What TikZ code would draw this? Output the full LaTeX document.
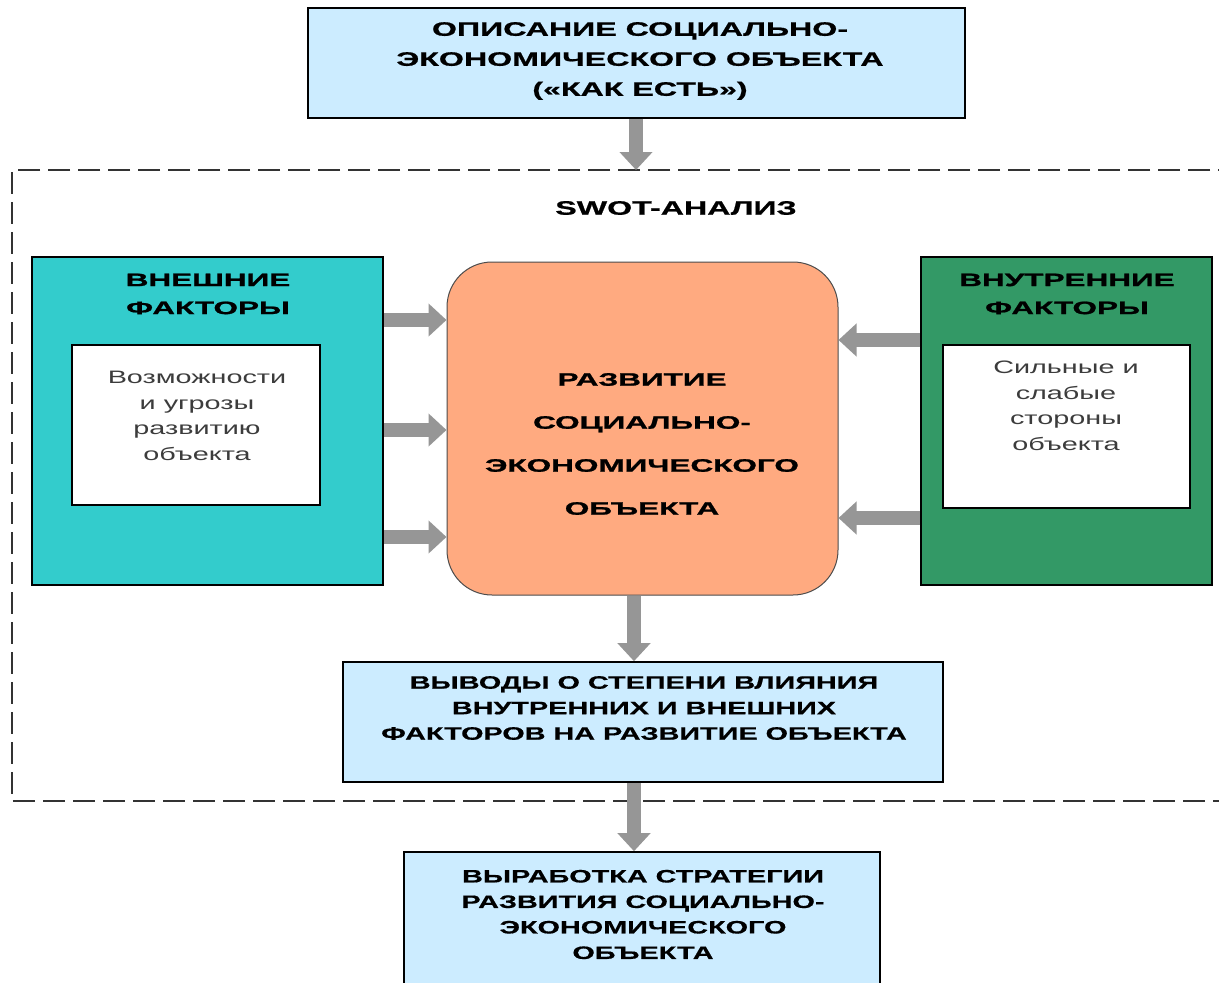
\documentclass[tikz,border=0pt]{standalone}
\usepackage{fontspec}
\setmainfont{Liberation Sans}
\newfontfamily\wide[FakeStretch=1.65,FakeBold=0.8]{Liberation Sans}
\newfontfamily\widec[FakeStretch=1.6,FakeBold=0.6]{Liberation Sans}
\newfontfamily\widen[FakeStretch=1.6]{Liberation Sans}
\newfontfamily\wider[FakeStretch=1.75,FakeBold=1.2]{Liberation Sans}
\usetikzlibrary{arrows.meta}
\definecolor{lblue}{RGB}{204,236,255}
\definecolor{teal1}{RGB}{51,204,204}
\definecolor{green1}{RGB}{51,153,102}
\definecolor{salmon1}{RGB}{255,170,128}
\definecolor{arrowgray}{RGB}{150,150,150}
\definecolor{innertxt}{RGB}{60,60,60}
\tikzset{
  box/.style={draw=black, line width=1.6pt, inner sep=0pt},
  ttl/.style={font=\wide\bfseries\fontsize{19.5}{30}\selectfont, align=center, inner sep=0pt},
  ttlb/.style={font=\widec\bfseries\fontsize{18}{25.5}\selectfont, align=center, inner sep=0pt},
  inn/.style={font=\widen\fontsize{18}{25.5}\selectfont, text=innertxt, align=center, inner sep=0pt},
  blockarrow/.style={draw=arrowgray, line width=14pt, -{Triangle[width=32pt,length=18pt]}, shorten >=0pt}
}
\begin{document}
\begin{tikzpicture}[x=1pt,y=-1pt]
\useasboundingbox (0,0) rectangle (1219,983);
\clip (0,0) rectangle (1219,983);
\fill[white] (0,0) rectangle (1219,983);
% dashed frame
\draw[dash pattern=on 22pt off 8pt, line width=1.5pt, black!80] (1240,170) -- (12,170) -- (12,801) -- (1240,801);
% top box
\node[box, fill=lblue, minimum width=657pt, minimum height=110pt] (top) at (636.5,63) {};
\node[ttl] (toptxt) at (640,61) {ОПИСАНИЕ СОЦИАЛЬНО-\\ЭКОНОМИЧЕСКОГО ОБЪЕКТА\\(«КАК ЕСТЬ»)};
\node[ttl] (swot) at (676,208) {SWOT-АНАЛИЗ};
% left box
\node[box, fill=teal1, minimum width=351pt, minimum height=328pt] (L) at (207.5,421) {};
\node[box, fill=white, line width=1.2pt, minimum width=248pt, minimum height=160pt] (Lin) at (196,425) {};
\node[ttl, font=\wider\bfseries\fontsize{18}{28}\selectfont] (Lt) at (208,294) {ВНЕШНИЕ\\ФАКТОРЫ};
\node[inn] (Lint) at (197,416) {Возможности\\и угрозы\\развитию\\объекта};
% right box
\node[box, fill=green1, minimum width=291pt, minimum height=328pt] (R) at (1066.5,421) {};
\node[box, fill=white, line width=1.2pt, minimum width=247pt, minimum height=163pt] (Rin) at (1066.5,426.5) {};
\node[ttl, font=\wider\bfseries\fontsize{18}{28}\selectfont] (Rt) at (1067,294) {ВНУТРЕННИЕ\\ФАКТОРЫ};
\node[inn] (Rint) at (1066,406) {Сильные и\\слабые\\стороны\\объекта};
% center box
\node[draw=black!70, line width=1pt, fill=salmon1, rounded corners=45pt, minimum width=391pt, minimum height=333pt, inner sep=0pt] (C) at (642.5,428.5) {};
\node[ttl, font=\wider\bfseries\fontsize{18}{43}\selectfont] (Ct) at (642,444) {РАЗВИТИЕ\\СОЦИАЛЬНО-\\ЭКОНОМИЧЕСКОГО\\ОБЪЕКТА};
% conclusions box
\node[box, fill=lblue, minimum width=600pt, minimum height=120pt] (V) at (643,722) {};
\node[ttlb] (Vt) at (644,708) {ВЫВОДЫ О СТЕПЕНИ ВЛИЯНИЯ\\ВНУТРЕННИХ И ВНЕШНИХ\\ФАКТОРОВ НА РАЗВИТИЕ ОБЪЕКТА};
% bottom box
\node[box, fill=lblue, minimum width=476pt, minimum height=150pt] (B) at (642,927) {};
\node[ttlb] (Bt) at (643,914.5) {ВЫРАБОТКА СТРАТЕГИИ\\РАЗВИТИЯ СОЦИАЛЬНО-\\ЭКОНОМИЧЕСКОГО\\ОБЪЕКТА};
% arrows
\coordinate (frametop) at (636,170);
\draw[blockarrow] (top.south -| frametop) -- (frametop);
\draw[blockarrow] (L.east |- 0,320) -- (C.west |- 0,320);
\draw[blockarrow] (L.east |- 0,430) -- (C.west |- 0,430);
\draw[blockarrow] (L.east |- 0,537) -- (C.west |- 0,537);
\draw[blockarrow] (R.west |- 0,340) -- (C.east |- 0,340);
\draw[blockarrow] (R.west |- 0,518) -- (C.east |- 0,518);
\draw[blockarrow] (C.south -| 634,0) -- (V.north -| 634,0);
\draw[blockarrow] (V.south -| 634,0) -- (B.north -| 634,0);
\end{tikzpicture}
\end{document}
